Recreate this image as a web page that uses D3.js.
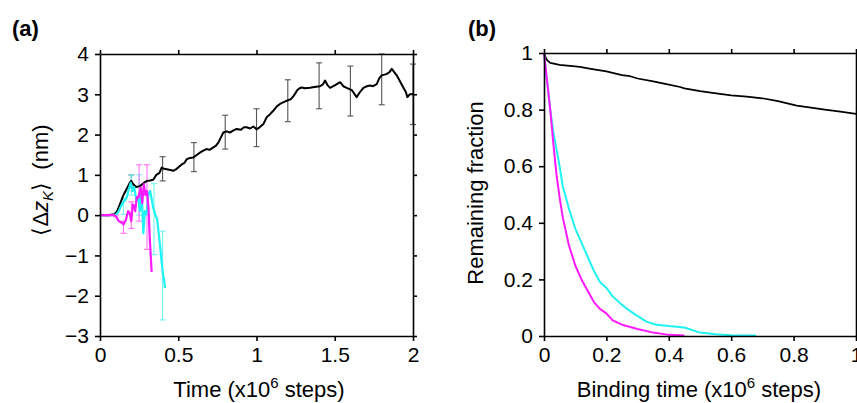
<!DOCTYPE html>
<html>
<head>
<meta charset="utf-8">
<script src="https://cdn.jsdelivr.net/npm/d3@7"></script>
<style>
  body { margin: 0; background: #fff; }
  svg { display: block; font-family: "Liberation Sans", Arial, sans-serif; }
  .axis path, .axis line { stroke: #000; stroke-width: 1.6; }
  .axis text { font-size: 21px; fill: #000; }
</style>
</head>
<body>
<div id="chart"></div>
<script>
// panel (a): mean displacement vs time
var blackT = [0, 0.05, 0.09, 0.11, 0.13, 0.15, 0.17, 0.19, 0.2, 0.21, 0.23, 0.255, 0.28, 0.3, 0.32, 0.34, 0.36, 0.38, 0.394, 0.41, 0.426, 0.45, 0.468, 0.49, 0.522, 0.54, 0.554, 0.575, 0.596, 0.62, 0.639, 0.66, 0.68, 0.7, 0.724, 0.74, 0.756, 0.775, 0.788, 0.81, 0.83, 0.85, 0.873, 0.9, 0.92, 0.937, 0.96, 0.98, 1.0, 1.02, 1.044, 1.065, 1.085, 1.107, 1.13, 1.15, 1.17, 1.193, 1.22, 1.235, 1.246, 1.26, 1.275, 1.289, 1.31, 1.342, 1.37, 1.406, 1.425, 1.438, 1.455, 1.47, 1.5, 1.534, 1.555, 1.576, 1.61, 1.64, 1.66, 1.683, 1.705, 1.725, 1.745, 1.768, 1.785, 1.8, 1.83, 1.85, 1.864, 1.88, 1.896, 1.92, 1.938, 1.955, 1.964, 1.98, 2.0];
var blackV = [0, 0, 0.02, 0.1, 0.3, 0.5, 0.65, 0.8, 0.85, 0.78, 0.7, 0.72, 0.8, 0.85, 0.86, 0.88, 1.0, 1.05, 1.18, 1.15, 1.14, 1.12, 1.1, 1.15, 1.26, 1.3, 1.39, 1.42, 1.43, 1.5, 1.55, 1.6, 1.64, 1.62, 1.68, 1.72, 1.8, 1.95, 2.05, 2.08, 2.05, 2.1, 2.14, 2.12, 2.18, 2.18, 2.15, 2.2, 2.13, 2.18, 2.26, 2.43, 2.5, 2.59, 2.7, 2.76, 2.8, 2.84, 2.88, 2.95, 3.01, 3.1, 3.15, 3.17, 3.15, 3.16, 3.18, 3.2, 3.25, 3.34, 3.22, 3.16, 3.22, 3.3, 3.2, 3.16, 3.1, 2.93, 3.05, 3.16, 3.2, 3.22, 3.2, 3.25, 3.4, 3.47, 3.5, 3.55, 3.63, 3.55, 3.47, 3.3, 3.17, 3.05, 2.93, 3.0, 3.0];
var blackErrT = [0.2, 0.4, 0.6, 0.8, 1.0, 1.2, 1.4, 1.6, 1.8, 2.0];
var blackErrC = [0.85, 1.15, 1.44, 2.06, 2.17, 2.84, 3.21, 3.08, 3.37, 3.0];
var blackErrE = [0.15, 0.3, 0.36, 0.42, 0.47, 0.52, 0.57, 0.62, 0.63, 0.75];

var cyanT = [0, 0.09, 0.105, 0.12, 0.14, 0.17, 0.186, 0.197, 0.207, 0.218, 0.233, 0.245, 0.255, 0.266, 0.277, 0.287, 0.298, 0.309, 0.32, 0.33, 0.34, 0.355, 0.365, 0.375, 0.385, 0.395, 0.403, 0.41, 0.415];
var cyanV = [0, 0, 0.02, 0.1, 0.27, 0.43, 0.68, 0.8, 0.6, 0.7, 0.35, 0.45, 0.1, 0.6, -0.45, 0.1, 0.02, 0.52, 0.6, 0.4, 0.18, 0.0, -0.1, -0.45, -0.8, -1.2, -1.5, -1.6, -1.81];
var cyanErrT = [0.15, 0.2, 0.25, 0.345, 0.4];
var cyanErrC = [0.22, 0.75, 0.5, -0.1, -1.5];
var cyanErrE = [0.2, 0.25, 0.5, 0.88, 1.1];

var magT = [0, 0.05, 0.09, 0.105, 0.12, 0.14, 0.15, 0.165, 0.18, 0.19, 0.2, 0.21, 0.22, 0.225, 0.235, 0.245, 0.26, 0.27, 0.28, 0.29, 0.3, 0.31, 0.318, 0.33];
var magV = [0, 0, 0, -0.05, -0.15, -0.19, -0.23, -0.12, 0.1, 0.05, -0.15, 0.27, 0.2, 0.1, 0.45, 0.43, 0.68, 0.3, 0.77, 0.5, 0.6, 0.18, -0.57, -1.41];
var magErrT = [0.05, 0.1, 0.15, 0.2, 0.25, 0.3];
var magErrC = [0, 0, -0.3, 0.0, 0.55, 0.2];
var magErrE = [0.02, 0.02, 0.15, 0.33, 0.7, 1.05];

var aXTicks = [0, 0.5, 1, 1.5, 2];
var aYTicks = [-3, -2, -1, 0, 1, 2, 3, 4];

// panel (b): remaining fraction vs binding time
var bBlackT = [0, 0.005, 0.01, 0.02, 0.05, 0.1, 0.115, 0.15, 0.2, 0.25, 0.276, 0.3, 0.35, 0.4, 0.436, 0.45, 0.5, 0.54, 0.6, 0.65, 0.7, 0.75, 0.81, 0.85, 0.9, 0.95, 1.0];
var bBlackV = [1, 0.985, 0.975, 0.965, 0.958, 0.953, 0.951, 0.944, 0.935, 0.922, 0.918, 0.91, 0.9, 0.888, 0.88, 0.875, 0.865, 0.859, 0.85, 0.846, 0.84, 0.83, 0.814, 0.808, 0.8, 0.793, 0.785];
var bCyanT = [0, 0.01, 0.02, 0.03, 0.04, 0.05, 0.06, 0.08, 0.1, 0.12, 0.14, 0.16, 0.18, 0.2, 0.22, 0.25, 0.28, 0.3, 0.33, 0.36, 0.4, 0.45, 0.5, 0.55, 0.6, 0.68];
var bCyanV = [1, 0.9, 0.8, 0.72, 0.66, 0.6, 0.53, 0.45, 0.38, 0.33, 0.28, 0.23, 0.19, 0.17, 0.14, 0.11, 0.085, 0.07, 0.05, 0.04, 0.035, 0.03, 0.012, 0.006, 0.003, 0.002];
var bMagT = [0, 0.01, 0.02, 0.03, 0.04, 0.05, 0.06, 0.08, 0.1, 0.12, 0.14, 0.16, 0.18, 0.2, 0.22, 0.25, 0.3, 0.35, 0.4, 0.45];
var bMagV = [1, 0.9, 0.8, 0.68, 0.57, 0.49, 0.42, 0.32, 0.25, 0.2, 0.16, 0.12, 0.095, 0.08, 0.055, 0.04, 0.025, 0.012, 0.004, 0.002];

var bXTicks = [0, 0.2, 0.4, 0.6, 0.8, 1];
var bYTicks = [0, 0.2, 0.4, 0.6, 0.8, 1];

var width = 857, height = 403;
var svg = d3.select("#chart").append("svg")
    .attr("width", width)
    .attr("height", height);

function zip(t, v) {
    return t.map(function(d, i) { return [d, v[i]]; });
}

function frame(x, y, xTicks, yTicks, fmt) {
    var x0 = x.range()[0], x1 = x.range()[1];
    var y0 = y.range()[0], y1 = y.range()[1];
    svg.append("g").attr("class", "axis")
        .attr("transform", "translate(0," + y0 + ")")
        .call(d3.axisBottom(x).tickValues(xTicks).tickFormat(fmt).tickSize(5).tickSizeOuter(0).tickPadding(6));
    svg.append("g").attr("class", "axis")
        .attr("transform", "translate(0," + y1 + ")")
        .call(d3.axisTop(x).tickValues(xTicks).tickFormat("").tickSize(4).tickSizeOuter(0));
    svg.append("g").attr("class", "axis")
        .attr("transform", "translate(" + x0 + ",0)")
        .call(d3.axisLeft(y).tickValues(yTicks).tickFormat(fmt).tickSize(5).tickSizeOuter(0).tickPadding(6));
    svg.append("g").attr("class", "axis")
        .attr("transform", "translate(" + x1 + ",0)")
        .call(d3.axisRight(y).tickValues(yTicks).tickFormat("").tickSize(4).tickSizeOuter(0));
}

function errBars(x, y, t, c, e, color) {
    var g = svg.append("g").attr("stroke", color).attr("stroke-width", 1.1).attr("fill", "none");
    t.forEach(function(d, i) {
        var px = x(d), top = y(c[i] + e[i]), bot = y(c[i] - e[i]);
        g.append("line").attr("x1", px).attr("x2", px).attr("y1", top).attr("y2", bot);
        g.append("line").attr("x1", px - 3).attr("x2", px + 3).attr("y1", top).attr("y2", top);
        g.append("line").attr("x1", px - 3).attr("x2", px + 3).attr("y1", bot).attr("y2", bot);
    });
}

function curve(x, y, pts, color, w) {
    var line = d3.line().x(function(d) { return x(d[0]); }).y(function(d) { return y(d[1]); });
    svg.append("path").datum(pts)
        .attr("fill", "none")
        .attr("stroke", color)
        .attr("stroke-width", w)
        .attr("stroke-linejoin", "round")
        .attr("d", line);
}

function xLabel(cx, text) {
    var t = svg.append("text")
        .attr("x", cx).attr("y", 397)
        .attr("text-anchor", "middle")
        .style("font-size", "22px");
    t.append("tspan").text(text + " (x10");
    t.append("tspan").attr("dy", -9).style("font-size", "15px").text("6");
    t.append("tspan").attr("dy", 9).text(" steps)");
}

var fmt = function(d) { return d3.format("")(d); };

// ---- panel (a)
var xa = d3.scaleLinear().domain([0, 2]).range([100, 413]);
var ya = d3.scaleLinear().domain([-3, 4]).range([336, 54]);

errBars(xa, ya, blackErrT, blackErrC, blackErrE, "#555");
errBars(xa, ya, cyanErrT, cyanErrC, cyanErrE, "#6ff5f5");
errBars(xa, ya, magErrT, magErrC, magErrE, "#ff70ff");
curve(xa, ya, zip(blackT, blackV), "#000", 2);
curve(xa, ya, zip(cyanT, cyanV), "#1ef2f2", 2.2);
curve(xa, ya, zip(magT, magV), "#ff1aff", 2.2);
frame(xa, ya, aXTicks, aYTicks, fmt);

xLabel(259, "Time");

var yla = svg.append("text")
    .attr("transform", "translate(48,180) rotate(-90)")
    .attr("text-anchor", "middle")
    .style("font-size", "22px");
yla.append("tspan").text("\u27e8\u0394");
yla.append("tspan").style("font-style", "italic").text("z");
yla.append("tspan").style("font-style", "italic").style("font-size", "15px").attr("dy", 5).text("K");
yla.append("tspan").attr("dy", -5).text("\u27e9\u00a0\u00a0(nm)");

svg.append("text").attr("x", 12).attr("y", 36)
    .style("font-size", "22px").style("font-weight", "bold").text("(a)");

// ---- panel (b)
var xb = d3.scaleLinear().domain([0, 1]).range([544, 856]);
var yb = d3.scaleLinear().domain([0, 1]).range([336, 53]);

curve(xb, yb, zip(bBlackT, bBlackV), "#000", 1.7);
curve(xb, yb, zip(bCyanT, bCyanV), "#1ef2f2", 2);
curve(xb, yb, zip(bMagT, bMagV), "#ff1aff", 2);
frame(xb, yb, bXTicks, bYTicks, fmt);

xLabel(699, "Binding time");

svg.append("text")
    .attr("transform", "translate(483,193) rotate(-90)")
    .attr("text-anchor", "middle")
    .style("font-size", "22px")
    .text("Remaining fraction");

svg.append("text").attr("x", 468).attr("y", 36)
    .style("font-size", "22px").style("font-weight", "bold").text("(b)");
</script>
</body>
</html>
